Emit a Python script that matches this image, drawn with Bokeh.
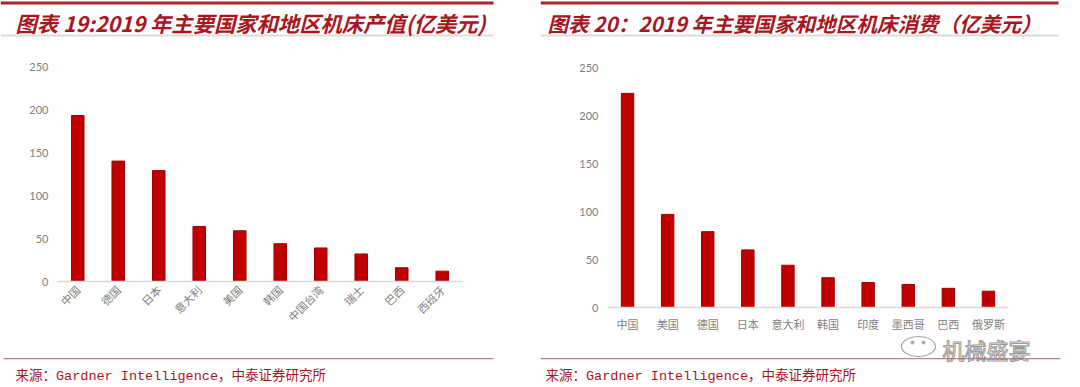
from bokeh.plotting import figure
from bokeh.models import Range1d, FactorRange, FixedTicker
from bokeh.layouts import row, column
from bokeh.core.properties import value
from bokeh.embed import file_html
from bokeh.resources import INLINE
from math import pi

# ---------------- data ----------------
title_left = "图表 19:2019 年主要国家和地区机床产值(亿美元)"
title_right = "图表 20：2019 年主要国家和地区机床消费（亿美元）"
source_text = "来源：Gardner Intelligence，中泰证券研究所"
watermark = "机械盛宴"

prod_countries = ["中国", "德国", "日本", "意大利", "美国", "韩国", "中国台湾", "瑞士", "巴西", "西班牙"]
prod_values = [193, 140, 129, 64, 59, 44, 39, 32, 16, 12]

cons_countries = ["中国", "美国", "德国", "日本", "意大利", "韩国", "印度", "墨西哥", "巴西", "俄罗斯"]
cons_values = [223, 97, 79, 60, 44, 31, 26, 24, 20, 17]

y_ticks = [0, 50, 100, 150, 200, 250]

# ---------------- styles ----------------
BAR = "#C00000"
BAR_EDGE = "#A00000"
TITLE_RED = "#A8161E"
LINE_RED = "#B02226"
TICK_GREY = "#7F7F7F"
CJK = "Noto Sans CJK SC"

W = 540
HDR_END = 45
PAGE_H = 387


def no_align(f):
    if "frame_align" in f.properties():
        f.frame_align = False
    return f


def blank(height):
    f = figure(width=W, height=height, x_range=Range1d(0, W), y_range=Range1d(height, 0),
               x_axis_type=None, y_axis_type=None, output_backend="svg", toolbar_location=None,
               min_border=0, min_border_left=0, min_border_right=0,
               min_border_top=0, min_border_bottom=0)
    f.outline_line_color = None
    f.xgrid.visible = False
    f.ygrid.visible = False
    f.background_fill_color = "white"
    f.border_fill_color = "white"
    return no_align(f)


def header(title, x0, title_x, line_x1, size):
    f = blank(HDR_END)
    x1 = line_x1 - x0
    f.quad(left=[0], right=[x1], top=[1], bottom=[4], fill_color=LINE_RED, line_color=None)
    f.quad(left=[0], right=[x1], top=[34], bottom=[36], fill_color="#DCDCDC", line_color=None)
    f.text(x=[title_x - x0], y=[22], text=[title], text_font=value(CJK),
           text_font_size=size, text_font_style="bold italic", text_color=TITLE_RED,
           text_baseline="middle", text_align="left")
    return f


def footer(x0, y0, src_x, line_x0, line_x1, wm=False):
    f = blank(PAGE_H - y0)
    if wm:
        f.ellipse(x=[918 - x0], y=[346 - y0], width=[34], height=[20], fill_color=None,
                  line_color="#A8A8A8", line_width=1.2)
        f.scatter(x=[912 - x0, 923 - x0], y=[342 - y0, 342 - y0], size=3, color="#A8A8A8")
        f.text(x=[942 - x0], y=[348 - y0], text=[watermark], text_font=value(CJK),
               text_font_size="22px", text_font_style="normal", text_color="white",
               text_outline_color="#9A9A9A", text_baseline="middle", text_align="left")
    f.quad(left=[line_x0 - x0], right=[line_x1 - x0], top=[357.5 - y0], bottom=[358.7 - y0],
           fill_color="#B07070", fill_alpha=0.85, line_color=None)
    f.text(x=[src_x - x0], y=[376 - y0], text=[source_text],
           text_font=value("Liberation Mono, Noto Sans CJK SC"), text_font_size="13.5px",
           text_color=TITLE_RED, text_baseline="middle", text_align="left")
    return f


def chart(cats, vals, frame, x0, y1, rotate):
    fl, fr, ft, fb = frame
    p = figure(width=W, height=y1 - HDR_END, x_range=FactorRange(*cats), y_range=Range1d(0, 250),
               output_backend="svg", toolbar_location=None,
               min_border_left=fl - x0, min_border_right=W - (fr - x0),
               min_border_top=ft - HDR_END, min_border_bottom=y1 - fb)
    no_align(p)
    p.outline_line_color = None
    p.xgrid.visible = False
    p.ygrid.visible = False
    p.background_fill_color = "white"
    p.border_fill_color = "white"

    p.vbar(x=cats, top=vals, width=0.31, fill_color=BAR, line_color=BAR_EDGE, line_width=1)

    ya = p.yaxis[0]
    ya.ticker = FixedTicker(ticks=y_ticks)
    ya.axis_line_color = None
    ya.major_tick_line_color = None
    ya.minor_tick_line_color = None
    ya.major_tick_out = 0
    ya.major_tick_in = 0
    ya.minor_tick_out = 0
    ya.major_label_standoff = 9
    ya.major_label_text_color = TICK_GREY
    ya.major_label_text_font = "Lato"
    ya.major_label_text_font_size = "11px"

    xa = p.xaxis[0]
    xa.axis_line_color = "#D9D9D9"
    xa.axis_line_width = 1.5
    xa.major_tick_line_color = None
    xa.minor_tick_line_color = None
    xa.major_tick_out = 0
    xa.major_tick_in = 0
    xa.minor_tick_out = 0
    xa.major_label_text_color = TICK_GREY
    xa.major_label_text_font = CJK
    xa.major_label_text_font_size = "11px"
    if rotate:
        xa.major_label_orientation = pi / 4
        xa.major_label_standoff = 6
    else:
        xa.major_label_standoff = 8
    return p


LEFT_CHART_END = 340
RIGHT_CHART_END = 334

left = column(header(title_left, 0, 15, 493, "21.3px"),
              chart(prod_countries, prod_values, (57, 462, 66, 281), 0, LEFT_CHART_END, True),
              footer(0, LEFT_CHART_END, 15, 3, 493))
right = column(header(title_right, 540, 547, 1058, "20.6px"),
               chart(cons_countries, cons_values, (607, 1008, 67, 311), 540, RIGHT_CHART_END, False),
               footer(540, RIGHT_CHART_END, 545, 540, 1060, wm=True))

layout = row(left, right)
open("out.html", "w").write(file_html(layout, INLINE))
